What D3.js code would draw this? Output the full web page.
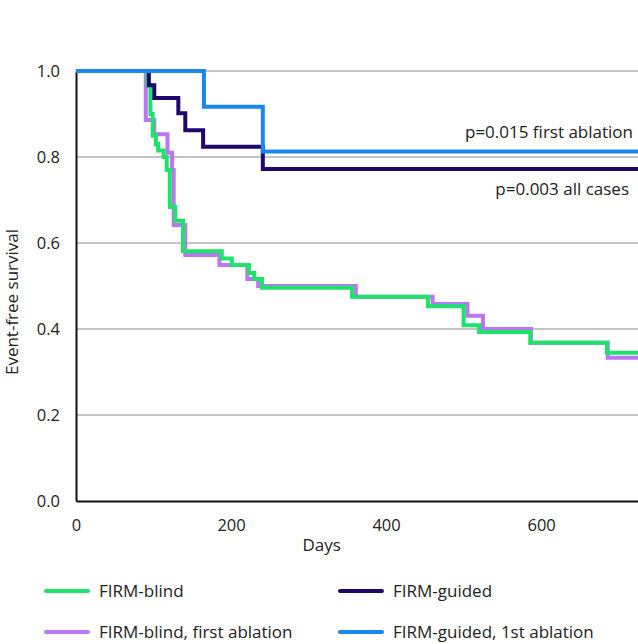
<!DOCTYPE html>
<html>
<head>
<meta charset="utf-8">
<script src="https://cdn.jsdelivr.net/npm/d3@7"></script>
<style>
  body { margin: 0; background: #fff; }
  svg { display: block; font-family: "Open Sans", "Noto Sans", sans-serif; }
</style>
</head>
<body>
<svg id="chart" width="638" height="644"></svg>
<script>
// ---- Data ----
const blindDays      = [0, 92, 96, 99, 103, 106, 113, 117, 121, 128, 138, 188, 201, 223, 230, 240, 356, 454, 500, 520, 586, 685];
const blindSurv      = [1.0, 0.967, 0.90, 0.85, 0.83, 0.815, 0.80, 0.77, 0.684, 0.652, 0.581, 0.564, 0.549, 0.53, 0.516, 0.496, 0.475, 0.453, 0.409, 0.393, 0.368, 0.345];

const blindFirstDays = [0, 90, 101, 118, 124, 126, 141, 185, 221, 235, 361, 460, 505, 525, 587, 686];
const blindFirstSurv = [1.0, 0.886, 0.853, 0.81, 0.77, 0.642, 0.572, 0.549, 0.516, 0.50, 0.475, 0.458, 0.431, 0.40, 0.368, 0.333];

const guidedDays     = [0, 94, 101, 132, 141, 164, 241];
const guidedSurv     = [1.0, 0.967, 0.937, 0.902, 0.862, 0.824, 0.772];

const guidedFirstDays = [0, 165, 241];
const guidedFirstSurv = [1.0, 0.917, 0.813];

const seriesNames  = ["FIRM-blind", "FIRM-guided", "FIRM-blind, first ablation", "FIRM-guided, 1st ablation"];
const seriesColors = ["#1ee36b", "#21096b", "#bb77f3", "#1a86f0"];

const xTicks = [0, 200, 400, 600];
const yTicks = [0.0, 0.2, 0.4, 0.6, 0.8, 1.0];
const xMax = 725;
const annotations = ["p=0.015 first ablation", "p=0.003 all cases"];

// ---- Layout ----
const svg = d3.select("#chart");
const mLeft = 76, mRight = 638, mTop = 71, mBottom = 501;
const FS = 17, TFS = 16.5;

const x = d3.scaleLinear().domain([0, xMax]).range([mLeft, mRight]);
const y = d3.scaleLinear().domain([0, 1]).range([mBottom, mTop]);

// gridlines
svg.append("g").selectAll("line")
  .data(yTicks.filter(t => t > 0))
  .join("line")
  .attr("x1", mLeft).attr("x2", mRight)
  .attr("y1", d => y(d)).attr("y2", d => y(d))
  .attr("stroke", "#8a8a8a").attr("stroke-width", 1.2);

// axes
const xAxis = svg.append("g")
  .attr("transform", `translate(0,${mBottom})`)
  .call(d3.axisBottom(x).tickValues(xTicks).tickSize(0).tickPadding(18).tickFormat(d3.format("d")));
xAxis.select(".domain").attr("stroke", "#111").attr("stroke-width", 2);
xAxis.selectAll("text").attr("font-size", TFS).attr("fill", "#222").attr("font-family", "'Open Sans', sans-serif");

const yAxis = svg.append("g")
  .attr("transform", `translate(${mLeft},0)`)
  .call(d3.axisLeft(y).tickValues(yTicks).tickSize(0).tickPadding(16).tickFormat(d3.format(".1f")));
yAxis.select(".domain").attr("stroke", "#111").attr("stroke-width", 2);
yAxis.selectAll("text").attr("font-size", TFS).attr("fill", "#222").attr("font-family", "'Open Sans', sans-serif");

// axis titles
svg.append("text")
  .attr("x", x(317)).attr("y", 551)
  .attr("text-anchor", "middle").attr("font-size", FS).attr("fill", "#222")
  .text("Days");
svg.append("text")
  .attr("transform", `translate(18,302) rotate(-90)`)
  .attr("text-anchor", "middle").attr("font-size", FS).attr("fill", "#222")
  .text("Event-free survival");

// curves
const line = d3.line().x(d => x(d[0])).y(d => y(d[1])).curve(d3.curveStepAfter);
function pts(days, surv) {
  const p = days.map((d, i) => [d, surv[i]]);
  p.push([xMax, surv[surv.length - 1]]);
  return p;
}
const drawOrder = [
  { days: blindFirstDays, surv: blindFirstSurv, color: seriesColors[2] },
  { days: blindDays, surv: blindSurv, color: seriesColors[0] },
  { days: guidedDays, surv: guidedSurv, color: seriesColors[1] },
  { days: guidedFirstDays, surv: guidedFirstSurv, color: seriesColors[3] }
];
svg.append("g").selectAll("path")
  .data(drawOrder)
  .join("path")
  .attr("d", s => line(pts(s.days, s.surv)))
  .attr("fill", "none")
  .attr("stroke", s => s.color)
  .attr("stroke-width", 4);

// p-value annotations
svg.append("text")
  .attr("x", 633).attr("y", 138)
  .attr("text-anchor", "end").attr("font-size", FS).attr("fill", "#222")
  .text(annotations[0]);
svg.append("text")
  .attr("x", 629).attr("y", 195)
  .attr("text-anchor", "end").attr("font-size", FS).attr("fill", "#222")
  .text(annotations[1]);

// legend
const legendPos = [[46, 591], [340, 591], [46, 632], [340, 632]];
const lg = svg.append("g").selectAll("g")
  .data(seriesNames)
  .join("g")
  .attr("transform", (d, i) => `translate(${legendPos[i][0]},${legendPos[i][1]})`);
lg.append("line")
  .attr("x1", 0).attr("x2", 42).attr("y1", 0).attr("y2", 0)
  .attr("stroke", (d, i) => seriesColors[i]).attr("stroke-width", 4).attr("stroke-linecap", "round");
lg.append("text")
  .attr("x", 53).attr("y", 6)
  .attr("font-size", FS).attr("fill", "#222")
  .text(d => d);
</script>
</body>
</html>
